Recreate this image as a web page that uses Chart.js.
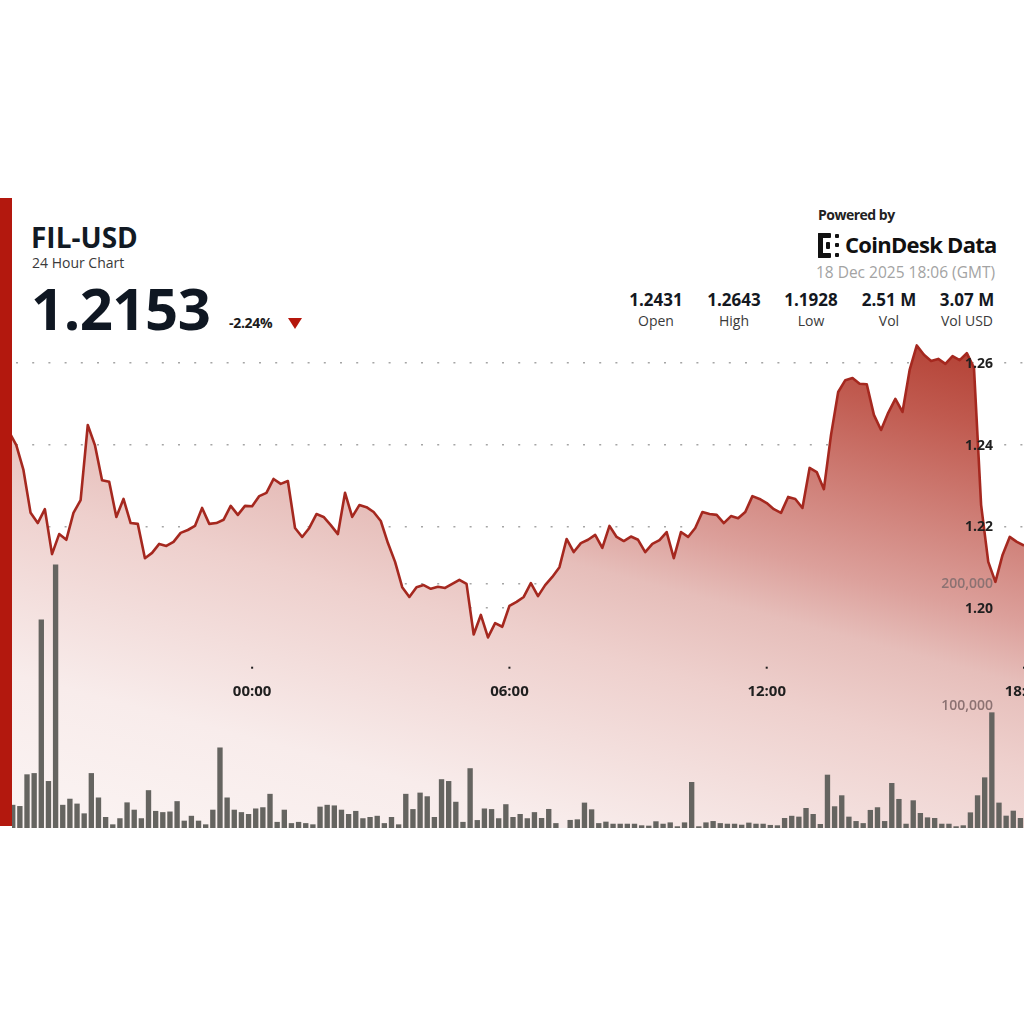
<!DOCTYPE html>
<html>
<head>
<meta charset="utf-8">
<script src="https://cdn.jsdelivr.net/npm/chart.js@4.4.0/dist/chart.umd.min.js"></script>
<style>
  html, body { margin: 0; padding: 0; width: 1024px; height: 1024px; overflow: hidden; background: #fff; font-family: "Open Sans", sans-serif; }
  #redbar { position: absolute; left: 0; top: 198px; width: 12px; height: 628px; background: #b3180e; }
  #wrap { position: absolute; left: 12px; top: 330px; width: 1012px; height: 498px; }
  .t { position: absolute; white-space: nowrap; line-height: 1; }
  .col { position: absolute; width: 90px; text-align: center; line-height: 1; }
  .col .v { font-weight: 700; font-size: 17px; color: #14181f; }
  .col .l { font-size: 14px; color: #3a3a3a; margin-top: 6px; }
</style>
</head>
<body>
<div id="redbar"></div>

<div class="t" style="left:31px;top:223px;font-size:28px;font-weight:700;color:#121a24;">FIL-USD</div>
<div class="t" style="left:32px;top:256px;font-size:14px;color:#3a3a3a;">24 Hour Chart</div>
<div class="t" style="left:31px;top:279px;font-size:58px;font-weight:700;color:#0f1722;letter-spacing:-0.5px;">1.2153</div>
<div class="t" style="left:229px;top:316px;font-size:14px;font-weight:700;color:#1c1c1c;letter-spacing:-0.3px;">-2.24%</div>
<div class="t" style="left:288px;top:318px;width:0;height:0;border-left:7.5px solid transparent;border-right:7.5px solid transparent;border-top:11px solid #b5170c;"></div>

<div class="t" style="left:818px;top:208px;font-size:14px;font-weight:700;color:#222;letter-spacing:-0.5px;">Powered by</div>
<svg class="t" style="left:818px;top:233px;" width="25" height="25" viewBox="0 0 25 25">
  <g fill="#111">
    <rect x="0" y="0" width="5" height="25" rx="1"/>
    <rect x="0" y="0" width="13" height="5" rx="1"/>
    <rect x="0" y="20" width="13" height="5" rx="1"/>
    <rect x="8" y="9" width="4" height="7" rx="1"/>
    <rect x="17" y="1" width="4" height="4" rx="1"/>
    <rect x="17" y="10" width="4" height="4" rx="1"/>
    <rect x="17" y="20" width="4" height="4" rx="1"/>
  </g>
</svg>
<div class="t" style="left:845px;top:233px;font-size:22px;font-weight:700;color:#111;letter-spacing:-0.7px;">CoinDesk Data</div>
<div class="t" style="right:29px;top:265px;font-size:15.5px;color:#a3a3a3;">18 Dec 2025 18:06 (GMT)</div>

<div class="col" style="left:611px;top:291px;"><div class="v">1.2431</div><div class="l">Open</div></div>
<div class="col" style="left:689px;top:291px;"><div class="v">1.2643</div><div class="l">High</div></div>
<div class="col" style="left:766px;top:291px;"><div class="v">1.1928</div><div class="l">Low</div></div>
<div class="col" style="left:844px;top:291px;"><div class="v">2.51 M</div><div class="l">Vol</div></div>
<div class="col" style="left:922px;top:291px;"><div class="v">3.07 M</div><div class="l">Vol USD</div></div>

<div id="wrap"><canvas id="chart" width="1012" height="498"></canvas></div>

<script>
// minutes relative to 00:00 (GMT) on 18 Dec
const priceStart = -340;
const volumeStart = -335;
const stepMin = 10;

const timeTicks = [0, 360, 720, 1080];
const timeLabels = ['00:00', '06:00', '12:00', '18:00'];
const priceTicks = [1.20, 1.22, 1.24, 1.26];
const volumeTicks = [100000, 200000];

const prices = [
  1.2431, 1.2399, 1.2338, 1.2233, 1.2208, 1.2242, 1.2132, 1.2181, 1.2167, 1.2233,
  1.2264, 1.2448, 1.2399, 1.2313, 1.2309, 1.2223, 1.2267, 1.2208, 1.2206, 1.2122,
  1.2135, 1.2157, 1.2152, 1.2162, 1.2184, 1.2191, 1.2201, 1.2245, 1.2206, 1.2208,
  1.2216, 1.2250, 1.2228, 1.2250, 1.2249, 1.2274, 1.2282, 1.2316, 1.2304, 1.2311,
  1.2196, 1.2174, 1.2196, 1.2230, 1.2223, 1.2203, 1.2181, 1.2282, 1.2223, 1.2252,
  1.2247, 1.2235, 1.2213, 1.2159, 1.2113, 1.2051, 1.2027, 1.2051, 1.2056, 1.2047,
  1.2052, 1.2049, 1.2059, 1.2069, 1.2059, 1.1935, 1.1983, 1.1928, 1.1963, 1.1954,
  1.2005, 1.2015, 1.2027, 1.2061, 1.2029, 1.2056, 1.2076, 1.2100, 1.2169, 1.2137,
  1.2159, 1.2167, 1.2179, 1.2147, 1.2201, 1.2174, 1.2164, 1.2175, 1.2167, 1.2137,
  1.2157, 1.2166, 1.2186, 1.2122, 1.2186, 1.2174, 1.2196, 1.2235, 1.2230, 1.2228,
  1.2208, 1.2225, 1.2220, 1.2235, 1.2274, 1.2267, 1.2257, 1.2242, 1.2233, 1.2272,
  1.2267, 1.2245, 1.2343, 1.2333, 1.2291, 1.2424, 1.2529, 1.2558, 1.2563, 1.2549,
  1.2548, 1.2473, 1.2436, 1.2478, 1.2512, 1.2480, 1.2583, 1.2643, 1.2620, 1.2605,
  1.2610, 1.2598, 1.2617, 1.2607, 1.2624, 1.2588, 1.2252, 1.2113, 1.2064, 1.2130,
  1.2174, 1.2162, 1.2153
];

const volumes = [
  19000, 18000, 44000, 45000, 171000, 38500, 216000, 19000, 24000, 20000,
  12000, 45000, 25000, 9000, 3000, 8000, 21000, 15000, 8000, 31000,
  14000, 13000, 13500, 22000, 6000, 10000, 6000, 3000, 15000, 66000,
  25000, 15000, 13000, 11500, 16000, 17000, 28000, 5000, 15000, 4000,
  5000, 4000, 3000, 17500, 19000, 18500, 15000, 11500, 14000, 8000,
  9000, 10000, 4000, 9000, 3000, 28000, 15500, 29000, 26000, 9000,
  40000, 38500, 21500, 5000, 49000, 6500, 16000, 15500, 8000, 19500,
  9000,
  11500, 8000, 13000, 8200, 15600, 4000, 0, 6600, 7100, 20800,
  15300, 4000, 5200, 3500, 3500, 3500, 3500, 2200, 1900, 5500,
  3500, 4600, 1400, 4600, 37700, 1400, 4600, 5700, 4000, 3500,
  3500, 2700, 4400, 3500, 3500, 2500, 2200, 8200, 10000, 9300,
  16400, 11500, 3300, 43700, 17800, 26800, 9300, 5700, 4000, 14800,
  17000, 5700, 36900, 23800, 3500, 22700, 12300, 8700, 8200, 3500,
  3500, 1400, 2200, 12800, 26800, 41500, 94800, 20800, 10100, 14200,
  8200
];

const pricePoints = prices.map((p, i) => ({ x: priceStart + i * stepMin, y: p }));
const volumePoints = volumes.map((v, i) => ({ x: volumeStart + i * stepMin, y: v }));

function areaFill(context) {
  const a = context.chart.chartArea;
  if (!a) return 'rgba(0,0,0,0)';
  const w = a.right - a.left, h = a.bottom - a.top;
  const g = context.chart.ctx.createLinearGradient(a.left, a.bottom, a.left + w * 0.19, a.bottom - h * 1.44);
  g.addColorStop(0, 'rgb(251,244,243)');
  g.addColorStop(0.2, 'rgb(248,236,235)');
  g.addColorStop(0.43, 'rgb(238,208,205)');
  g.addColorStop(0.54, 'rgb(230,190,186)');
  g.addColorStop(0.62, 'rgb(220,160,155)');
  g.addColorStop(0.86, 'rgb(192,90,79)');
  g.addColorStop(0.94, 'rgb(182,70,58)');
  g.addColorStop(1, 'rgb(176,58,46)');
  return g;
}

const dotGrid = {
  ticks: { display: false },
  grid: { color: '#a5a5a5', lineWidth: 1.5, drawTicks: false },
  border: { display: false, dash: [2, 14.2], dashOffset: -4 }
};

// axis labels sit inside the plot, as in the reference
const insideLabels = {
  id: 'insideLabels',
  afterDatasetsDraw(chart) {
    const { ctx, chartArea, scales } = chart;
    const lx = chartArea.right - 31;
    ctx.save();
    ctx.textAlign = 'right';
    ctx.textBaseline = 'middle';
    ctx.font = 'bold 14px "Open Sans"';
    ctx.fillStyle = '#1f1f1f';
    priceTicks.forEach(v => ctx.fillText(v.toFixed(2), lx, scales.y.getPixelForValue(v) + 1));
    ctx.font = '600 14px "Open Sans"';
    ctx.fillStyle = '#8c7272';
    volumeTicks.forEach(v => ctx.fillText(v.toLocaleString('en-US'), lx, scales.yVol.getPixelForValue(v)));

    const ly = scales.y.getPixelForValue(1.1795);
    ctx.textAlign = 'center';
    ctx.font = 'bold 15px "Open Sans"';
    ctx.fillStyle = '#1f1f1f';
    timeTicks.forEach((t, i) => {
      const px = scales.x.getPixelForValue(t);
      ctx.fillRect(px - 1, ly - 25, 2, 2);
      ctx.fillText(timeLabels[i], px, ly);
    });
    ctx.restore();
  }
};

new Chart(document.getElementById('chart').getContext('2d'), {
  data: {
    datasets: [
      {
        type: 'line',
        data: pricePoints,
        yAxisID: 'y',
        borderColor: '#a5281f',
        borderWidth: 2.6,
        borderJoinStyle: 'round',
        pointRadius: 0,
        tension: 0,
        fill: 'start',
        backgroundColor: areaFill,
        order: 2
      },
      {
        type: 'bar',
        data: volumePoints,
        yAxisID: 'yVol',
        backgroundColor: '#656460',
        barPercentage: 0.75,
        categoryPercentage: 1,
        order: 1
      }
    ]
  },
  options: {
    responsive: false,
    animation: false,
    devicePixelRatio: 1,
    layout: { padding: 0 },
    plugins: { legend: { display: false }, tooltip: { enabled: false } },
    scales: {
      x: { type: 'linear', min: -336, max: 1080, offset: false, display: false, grid: { offset: false } },
      y: Object.assign({
        type: 'linear', position: 'right', min: 1.14612, max: 1.26808,
        afterBuildTicks: s => { s.ticks = priceTicks.map(v => ({ value: v })); }
      }, dotGrid),
      yVol: Object.assign({
        type: 'linear', position: 'right', min: 0, max: 408200,
        afterBuildTicks: s => { s.ticks = volumeTicks.map(v => ({ value: v })); }
      }, dotGrid)
    }
  },
  plugins: [insideLabels]
});
</script>
</body>
</html>
